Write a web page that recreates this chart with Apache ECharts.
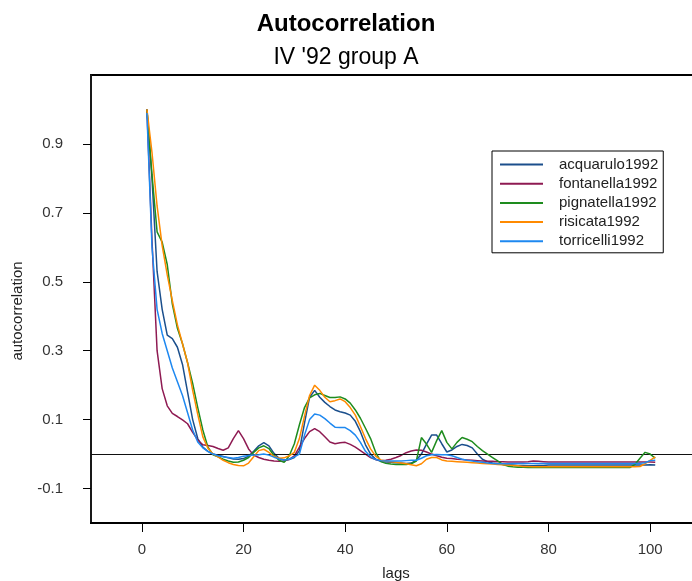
<!DOCTYPE html>
<html>
<head>
<meta charset="utf-8">
<script src="https://cdn.jsdelivr.net/npm/echarts@6/dist/echarts.min.js"></script>
<style>html,body{margin:0;padding:0;background:#fff}#c{width:692px;height:581px}</style>
</head>
<body>
<div id="c"></div>
<script>
const lags = [1,2,3,4,5,6,7,8,9,10,11,12,13,14,15,16,17,18,19,20,21,22,23,24,25,26,27,28,29,30,31,32,33,34,35,36,37,38,39,40,41,42,43,44,45,46,47,48,49,50,51,52,53,54,55,56,57,58,59,60,61,62,63,64,65,66,67,68,69,70,71,72,73,74,75,76,77,78,79,80,81,82,83,84,85,86,87,88,89,90,91,92,93,94,95,96,97,98,99,100,101];

const seriesNames = ['acquarulo1992','fontanella1992','pignatella1992','risicata1992','torricelli1992'];

const acquarulo1992 = [
 1.0, 0.80, 0.53, 0.42, 0.345, 0.335, 0.31, 0.26, 0.18, 0.10,
 0.045, 0.02, 0.008, 0.0, -0.003, -0.007, -0.011, -0.014, -0.015, -0.013,
 -0.006, 0.008, 0.024, 0.033, 0.024, 0.002, -0.012, -0.017, -0.016, -0.01,
 0.01, 0.09, 0.165, 0.185, 0.165, 0.15, 0.138, 0.128, 0.123, 0.119,
 0.113, 0.095, 0.065, 0.027, 0.0, -0.015, -0.021, -0.023, -0.024, -0.025,
 -0.026, -0.027, -0.026, -0.018, 0.0, 0.029, 0.055, 0.055, 0.03, 0.006,
 0.012, 0.022, 0.028, 0.025, 0.018, 0.0, -0.015, -0.022, -0.026, -0.028,
 -0.03, -0.031, -0.032, -0.033, -0.033, -0.034, -0.034, -0.033, -0.033, -0.032,
 -0.032, -0.032, -0.032, -0.032, -0.032, -0.032, -0.032, -0.032, -0.032, -0.032,
 -0.032, -0.032, -0.032, -0.032, -0.032, -0.032, -0.032, -0.032, -0.032, -0.031,
 -0.032];

const fontanella1992 = [
 1.0, 0.62, 0.30, 0.19, 0.14, 0.118, 0.109, 0.099, 0.088, 0.063,
 0.041, 0.027, 0.025, 0.022, 0.016, 0.011, 0.018, 0.045, 0.068, 0.045,
 0.015, -0.003, -0.01, -0.015, -0.018, -0.02, -0.021, -0.02, -0.015, -0.005,
 0.02, 0.045, 0.065, 0.074, 0.065, 0.05, 0.035, 0.03, 0.033, 0.034,
 0.028, 0.02, 0.01, 0.0, -0.01, -0.016, -0.019, -0.018, -0.015, -0.01,
 -0.004, 0.004, 0.009, 0.012, 0.011, 0.006, 0.0, -0.005, -0.009, -0.012,
 -0.013, -0.015, -0.016, -0.017, -0.018, -0.019, -0.02, -0.021, -0.021, -0.022,
 -0.022, -0.023, -0.023, -0.023, -0.023, -0.022, -0.02, -0.021, -0.022, -0.023,
 -0.023, -0.023, -0.023, -0.023, -0.023, -0.023, -0.023, -0.023, -0.023, -0.023,
 -0.023, -0.023, -0.023, -0.023, -0.023, -0.023, -0.023, -0.023, -0.023, -0.023,
 -0.024];

const pignatella1992 = [
 1.0, 0.81, 0.645, 0.615, 0.55, 0.435, 0.365, 0.32, 0.265, 0.205,
 0.135, 0.07, 0.02, -0.002, -0.008, -0.015, -0.02, -0.024, -0.023, -0.018,
 -0.01, 0.005, 0.018, 0.024, 0.016, -0.004, -0.018, -0.024, -0.005, 0.03,
 0.085, 0.135, 0.163, 0.172, 0.176, 0.17, 0.164, 0.164, 0.166, 0.16,
 0.148, 0.128, 0.104, 0.075, 0.045, 0.005, -0.022, -0.027, -0.029, -0.03,
 -0.03, -0.03, -0.028, -0.02, 0.048, 0.029, 0.005, 0.039, 0.068, 0.034,
 0.015, 0.034, 0.048, 0.043, 0.036, 0.022, 0.01, 0.0, -0.01, -0.02,
 -0.03, -0.035, -0.037, -0.038, -0.038, -0.039, -0.039, -0.039, -0.039, -0.039,
 -0.039, -0.039, -0.039, -0.039, -0.039, -0.039, -0.039, -0.039, -0.039, -0.039,
 -0.039, -0.039, -0.039, -0.039, -0.039, -0.039, -0.03, -0.012, 0.005, 0.0,
 -0.012];

const risicata1992 = [
 1.0, 0.875, 0.72, 0.605, 0.52, 0.445, 0.375, 0.32, 0.265, 0.185,
 0.115, 0.05, 0.017, 0.0, -0.008, -0.018, -0.025, -0.03, -0.033, -0.034,
 -0.026, -0.008, 0.01, 0.014, 0.005, -0.007, -0.012, -0.011, -0.005, 0.005,
 0.045, 0.11, 0.17, 0.2, 0.185, 0.165, 0.152, 0.155, 0.16, 0.152,
 0.135, 0.113, 0.08, 0.045, 0.015, -0.006, -0.017, -0.021, -0.022, -0.024,
 -0.026, -0.028, -0.031, -0.034, -0.028, -0.015, -0.01, -0.01, -0.017, -0.02,
 -0.021, -0.022, -0.023, -0.024, -0.025, -0.026, -0.027, -0.028, -0.029, -0.03,
 -0.031, -0.032, -0.033, -0.034, -0.036, -0.036, -0.037, -0.037, -0.037, -0.037,
 -0.037, -0.037, -0.037, -0.037, -0.037, -0.037, -0.037, -0.037, -0.037, -0.037,
 -0.037, -0.037, -0.037, -0.037, -0.037, -0.037, -0.037, -0.036, -0.028, -0.018,
 -0.008];

const torricelli1992 = [
 0.99, 0.6, 0.42, 0.35, 0.3, 0.25, 0.21, 0.17, 0.12, 0.07,
 0.035, 0.018, 0.008, 0.0, -0.005, -0.008, -0.01, -0.012, -0.01, -0.006,
 -0.004, -0.003, -0.002, 0.0, -0.003, -0.009, -0.014, -0.017, -0.015, -0.008,
 0.0, 0.055, 0.1, 0.116, 0.113, 0.103, 0.09, 0.078, 0.077, 0.077,
 0.068, 0.055, 0.034, 0.008, -0.008, -0.016, -0.019, -0.02, -0.02, -0.02,
 -0.02, -0.019, -0.018, -0.018, -0.012, -0.005, -0.002, -0.001, -0.002, -0.002,
 -0.005, -0.01, -0.015, -0.018, -0.02, -0.022, -0.024, -0.026, -0.027, -0.028,
 -0.028, -0.028, -0.027, -0.027, -0.027, -0.027, -0.027, -0.027, -0.027, -0.027,
 -0.027, -0.027, -0.027, -0.027, -0.027, -0.027, -0.027, -0.027, -0.027, -0.027,
 -0.027, -0.027, -0.027, -0.027, -0.027, -0.027, -0.027, -0.027, -0.025, -0.019,
 -0.018];

const xTicks = [0, 20, 40, 60, 80, 100];
const yTicks = [-0.1, 0.1, 0.3, 0.5, 0.7, 0.9];

const colors = ['#1b4f8c', '#8e1a52', '#1e8c1e', '#ff8a00', '#1e88f0'];
const values = [acquarulo1992, fontanella1992, pignatella1992, risicata1992, torricelli1992];

const FONT = '"Liberation Sans", Arial, sans-serif';

const chart = echarts.init(document.getElementById('c'), null, {renderer: 'canvas'});

const series = seriesNames.map((name, i) => ({
  name: name,
  type: 'line',
  data: lags.map((l, j) => [l, values[i][j]]),
  showSymbol: false,
  symbol: 'none',
  color: colors[i],
  lineStyle: {width: 1.5, color: colors[i]},
  z: 3 + i
}));
series[4].markLine = {
  silent: true,
  symbol: ['none', 'none'],
  label: {show: false},
  lineStyle: {color: '#111', width: 1.2, type: 'solid'},
  data: [{yAxis: 0}],
  animation: false
};

chart.setOption({
  animation: false,
  backgroundColor: '#fff',
  textStyle: {fontFamily: FONT},
  title: [
    {text: 'Autocorrelation', left: 'center', top: 7,
     textStyle: {fontSize: 24, fontWeight: 'bold', color: '#000', fontFamily: FONT}},
    {text: "IV '92 group A", left: 'center', top: 41,
     textStyle: {fontSize: 23, fontWeight: 'normal', color: '#000', fontFamily: FONT}}
  ],
  grid: {left: 91, top: 75, right: -9, bottom: 58, show: true, borderColor: '#000', borderWidth: 2,
         containLabel: false, outerBoundsMode: 'none'},
  legend: {
    orient: 'vertical', left: 492, top: 151,
    padding: [6, 5, 4, 8],
    itemWidth: 43, itemHeight: 14, itemGap: 4.2,
    icon: 'path://M0,0 L43,0 L43,2 L0,2 Z',
    symbolKeepAspect: true,
    borderColor: '#000', borderWidth: 1,
    textStyle: {fontSize: 15, color: '#222', fontFamily: FONT, padding: [0, 0, 0, 11]},
    data: seriesNames
  },
  graphic: [{
    type: 'text', x: 18, y: 311, rotation: Math.PI / 2,
    style: {text: 'autocorrelation', fontSize: 15, fill: '#222', fontFamily: FONT,
            align: 'center', verticalAlign: 'middle'}
  }],
  xAxis: {
    type: 'value', min: -10, max: 110,
    name: 'lags', nameLocation: 'middle', nameGap: 43,
    nameTextStyle: {fontSize: 15, color: '#222', fontFamily: FONT},
    axisLine: {show: true, onZero: false, lineStyle: {color: '#000', width: 2}},
    axisTick: {show: true, inside: false, length: 9, lineStyle: {color: '#000', width: 1}, customValues: xTicks},
    axisLabel: {show: true, customValues: xTicks, margin: 19, fontSize: 15, color: '#333', fontFamily: FONT},
    splitLine: {show: false}
  },
  yAxis: {
    type: 'value', min: -0.2, max: 1.1,
    axisLine: {show: true, onZero: false, lineStyle: {color: '#222', width: 1.5}},
    axisTick: {show: true, inside: false, length: 8, lineStyle: {color: '#000', width: 1}, customValues: yTicks},
    axisLabel: {show: true, customValues: yTicks, margin: 28, fontSize: 15, color: '#333', fontFamily: FONT,
      padding: [5, 0, 0, 0],
      formatter: v => Number(v).toFixed(1)},
    splitLine: {show: false}
  },
  series: series
});
</script>
</body>
</html>
